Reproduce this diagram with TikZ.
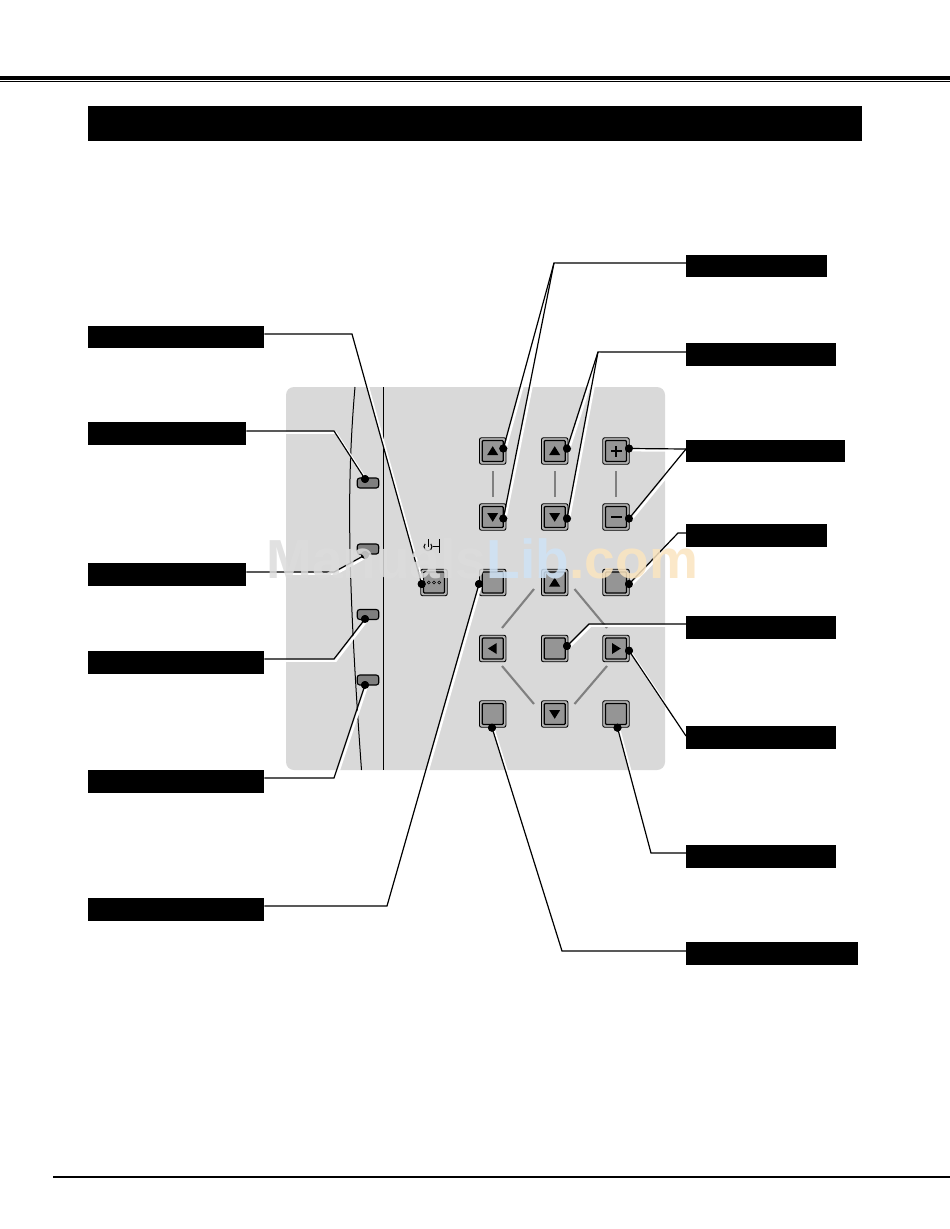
\documentclass[tikz,border=0pt]{standalone}
\usepackage{fontspec}
\setmainfont{Liberation Sans}
\usetikzlibrary{calc}
\pgfdeclarelayer{front}
\pgfsetlayers{main,front}
\definecolor{panelc}{HTML}{D9D9D9}
\definecolor{btnc}{HTML}{959595}
\definecolor{ringc}{HTML}{B4B4B4}
\definecolor{ledc}{HTML}{7F7F7F}
\definecolor{linkc}{HTML}{808080}
\definecolor{wmgray}{HTML}{DCDCDC}
\definecolor{wmblue}{HTML}{CFE3F6}
\definecolor{wmorange}{HTML}{FBE5C0}
\tikzset{
 x=1pt,y=-1pt,
 lab/.style={draw=none,fill=black,inner sep=0pt,anchor=north west,minimum height=22.5pt},
 btnout/.style={draw=black,line width=.9pt,fill=ringc,rounded corners=2pt,minimum size=26.5pt,inner sep=0pt},
 btnin/.style={draw=black,line width=1.3pt,fill=btnc,rounded corners=1pt,minimum size=21pt,inner sep=0pt},
 led/.style={draw=black,line width=1.1pt,fill=ledc,rounded corners=2.5pt,minimum width=21.5pt,minimum height=10pt,inner sep=0pt},
 dotn/.style={circle,fill=black,minimum size=8pt,inner sep=0pt},
 halo/.style={draw=white,line width=2.4pt,line cap=round,transform canvas={xshift=1.7pt,yshift=-1.7pt}},
 conn/.style={draw=black,line width=1.2pt},
 glink/.style={draw=linkc,line width=2.1pt},
 wm/.style={inner sep=0pt,anchor=base west,font=\fontsize{55pt}{55pt}\bfseries\selectfont,opacity=.85},
}
\newcommand{\btn}[3]{\node[btnout] (#1) at (#2,#3) {};\node[btnin] (#1i) at (#1) {};}
\newcommand{\triup}[1]{\fill ($(#1)+(-5.5,4)$) -- ($(#1)+(5.5,4)$) -- ($(#1)+(0,-4.8)$) -- cycle;}
\newcommand{\tridn}[1]{\fill ($(#1)+(-5.5,-4)$) -- ($(#1)+(5.5,-4)$) -- ($(#1)+(0,4.8)$) -- cycle;}
\newcommand{\trilf}[1]{\fill ($(#1)+(4,-5.5)$) -- ($(#1)+(4,5.5)$) -- ($(#1)+(-4.8,0)$) -- cycle;}
\newcommand{\trirt}[1]{\fill ($(#1)+(-4,-5.5)$) -- ($(#1)+(-4,5.5)$) -- ($(#1)+(4.8,0)$) -- cycle;}
\newcommand{\cnn}[1]{\path[halo] #1;\path[conn] #1;}
\begin{document}
\begin{tikzpicture}
\useasboundingbox (0,0) rectangle (950,1229);
\fill[white] (0,0) rectangle (950,1229);
% page rules
\fill[black] (0,76) rectangle (950,79.5);
\fill[black] (0,81) rectangle (950,82.4);
\fill[black] (52.7,1175.7) rectangle (950,1178);
\node[lab,minimum width=774pt,minimum height=35pt] (banner) at (88,106) {};
% panel
\fill[panelc,rounded corners=8pt] (286,387) rectangle (665,770);
\draw[black,line width=1pt] (383.5,387) -- (383.5,770);
\draw[black,line width=1pt] (355,387) .. controls (347,480) and (347,570) .. (361.5,770);
% gray links
\foreach \c/\x in {a/493,b/555,c/616}{\draw[glink] (\x,471) -- (\x,497);}
\draw[glink] (534,589) -- (502,628);
\draw[glink] (574.5,589) -- (607,628);
\draw[glink] (502,666) -- (534,704);
\draw[glink] (607,666) -- (574.5,704);
% leds
\node[led] (led1) at (368,483) {};
\node[led] (led2) at (368,549) {};
\node[led] (led3) at (368,614.5) {};
\node[led] (led4) at (368,680) {};
% buttons
\btn{b11}{492.7}{451}\btn{b12}{554.7}{451}\btn{b13}{616}{451}
\btn{b21}{492.7}{517}\btn{b22}{554.7}{517}\btn{b23}{616}{517}
\btn{pw}{434}{582.5}
\btn{b31}{492.7}{582.5}\btn{b32}{554.7}{582.5}\btn{b33}{616}{582.5}
\btn{b41}{492.7}{648.5}\btn{b42}{554.7}{648.5}\btn{b43}{616}{648.5}
\btn{b51}{492.7}{714}\btn{b52}{554.7}{714}\btn{b53}{616}{714}
\triup{b11}\triup{b12}\tridn{b21}\tridn{b22}
\triup{b32}\trilf{b41}\trirt{b43}\tridn{b52}
\fill ($(b13)+(-5.5,-.9)$) rectangle ($(b13)+(5.5,.9)$);
\fill ($(b13)+(-.9,-5.5)$) rectangle ($(b13)+(.9,5.5)$);
\fill ($(b23)+(-5.5,-1.1)$) rectangle ($(b23)+(5.5,1.1)$);
\foreach \i in {-5.2,0,5.2}{\draw[black,line width=.6pt] ($(pw)+(\i,0)$) circle (1.5);}
% power symbol
\draw[black,line width=1pt] (430.8,543.9) arc[start angle=-45,end angle=225,x radius=4,y radius=4];
\draw[black,line width=1pt] (428,539) -- (428,547);
\draw[black,line width=1pt] (432.5,546) -- (439,546);
\draw[black,line width=1pt] (439.5,539) -- (439.5,552.5);
% labels
\begin{pgfonlayer}{front}
\node[lab,minimum width=141pt] (r1) at (686,254.5) {};
\node[lab,minimum width=150pt] (r2) at (686,343) {};
\node[lab,minimum width=159pt] (r3) at (686,439.5) {};
\node[lab,minimum width=141pt] (r4) at (686,524) {};
\node[lab,minimum width=150pt] (r5) at (686,616) {};
\node[lab,minimum width=150pt] (r6) at (686,726) {};
\node[lab,minimum width=150pt] (r7) at (686,845) {};
\node[lab,minimum width=172pt] (r8) at (686,942) {};
\node[lab,minimum width=176pt] (l1) at (88,325.5) {};
\node[lab,minimum width=158pt] (l2) at (88,422) {};
\node[lab,minimum width=158pt] (l3) at (88,563) {};
\node[lab,minimum width=176pt] (l4) at (88,651) {};
\node[lab,minimum width=176pt] (l5) at (88,770) {};
\node[lab,minimum width=176pt] (l6) at (88,898) {};
\end{pgfonlayer}
% connector ends
\node[dotn] (d11) at (503.3,448.5) {};
\node[dotn] (d21) at (503.3,518.5) {};
\node[dotn] (d12) at (567,448.5) {};
\node[dotn] (d22) at (567,518.5) {};
\node[dotn] (d13) at (629,448.5) {};
\node[dotn] (d23) at (629,518.5) {};
\node[dotn] (d33) at (629,584) {};
\node[dotn] (d42) at (567,646) {};
\node[dotn] (d43) at (629,650.7) {};
\node[dotn] (d51) at (492,727.7) {};
\node[dotn] (d53) at (617.5,727.7) {};
\node[dotn] (d31) at (479,584) {};
\node[dotn] (dpw) at (421.7,584) {};
\node[dotn] (dl1) at (365,479) {};
\node[dotn] (dl2) at (365,555) {};
\node[dotn] (dl3) at (365,619) {};
\node[dotn] (dl4) at (365,685) {};
\coordinate (j1) at (554,263);
\coordinate (j2) at (598,352);
\coordinate (j4) at (678,533);
\coordinate (j5) at (589,624);
\coordinate (j7) at (651,853);
\coordinate (j8) at (562,951);
\coordinate (k1) at (352,334);
\coordinate (k2) at (334,431);
\coordinate (k3) at (334,572);
\coordinate (k4) at (334,659);
\coordinate (k5) at (334,778);
\coordinate (k6) at (387,906);
\coordinate (e1) at ($(r1.north west)+(0,8.5)$);
\coordinate (e2) at ($(r2.north west)+(0,9)$);
\coordinate (e3) at ($(r3.north west)+(0,9.5)$);
\coordinate (e4) at ($(r4.north west)+(0,9)$);
\coordinate (e5) at ($(r5.north west)+(0,8)$);
\coordinate (e6) at ($(r6.north west)+(0,10)$);
\coordinate (e7) at ($(r7.north west)+(0,8)$);
\coordinate (e8) at ($(r8.north west)+(0,9)$);
\coordinate (g1) at ($(l1.north east)+(0,8.5)$);
\coordinate (g2) at ($(l2.north east)+(0,9)$);
\coordinate (g3) at ($(l3.north east)+(0,9)$);
\coordinate (g4) at ($(l4.north east)+(0,8)$);
\coordinate (g5) at ($(l5.north east)+(0,8)$);
\coordinate (g6) at ($(l6.north east)+(0,8)$);
\cnn{(e1) -- (j1) -- (d11.center)}
\cnn{(j1) -- (d21.center)}
\cnn{(e2) -- (j2) -- (d12.center)}
\cnn{(j2) -- (d22.center)}
\cnn{(e3) -- (d13.center)}
\cnn{(e3) -- (d23.center)}
\cnn{(e4) -- (j4) -- (d33.center)}
\cnn{(e5) -- (j5) -- (d42.center)}
\cnn{(e6) -- (d43.center)}
\cnn{(e7) -- (j7) -- (d53.center)}
\cnn{(e8) -- (j8) -- (d51.center)}
\cnn{(g1) -- (k1) -- (dpw.center)}
\cnn{(g2) -- (k2) -- (dl1.center)}
\cnn{(g3) -- (k3) -- (dl2.center)}
\cnn{(g4) -- (k4) -- (dl3.center)}
\cnn{(g5) -- (k5) -- (dl4.center)}
\cnn{(g6) -- (k6) -- (d31.center)}
\foreach \d in {d11,d21,d12,d22,d13,d23,d33,d42,d43,d51,d53,d31,dpw,dl1,dl2,dl3,dl4}{\fill[black] (\d) circle (4);}
% watermark
\begin{pgfonlayer}{front}
\node[wm,text=wmgray] (wm1) at (266,578.5) {Manuals};
\node[wm,text=wmblue] (wm2) at (wm1.base east) {Lib};
\node[wm,text=wmorange] (wm3) at (wm2.base east) {.com};
\end{pgfonlayer}
\end{tikzpicture}
\end{document}
